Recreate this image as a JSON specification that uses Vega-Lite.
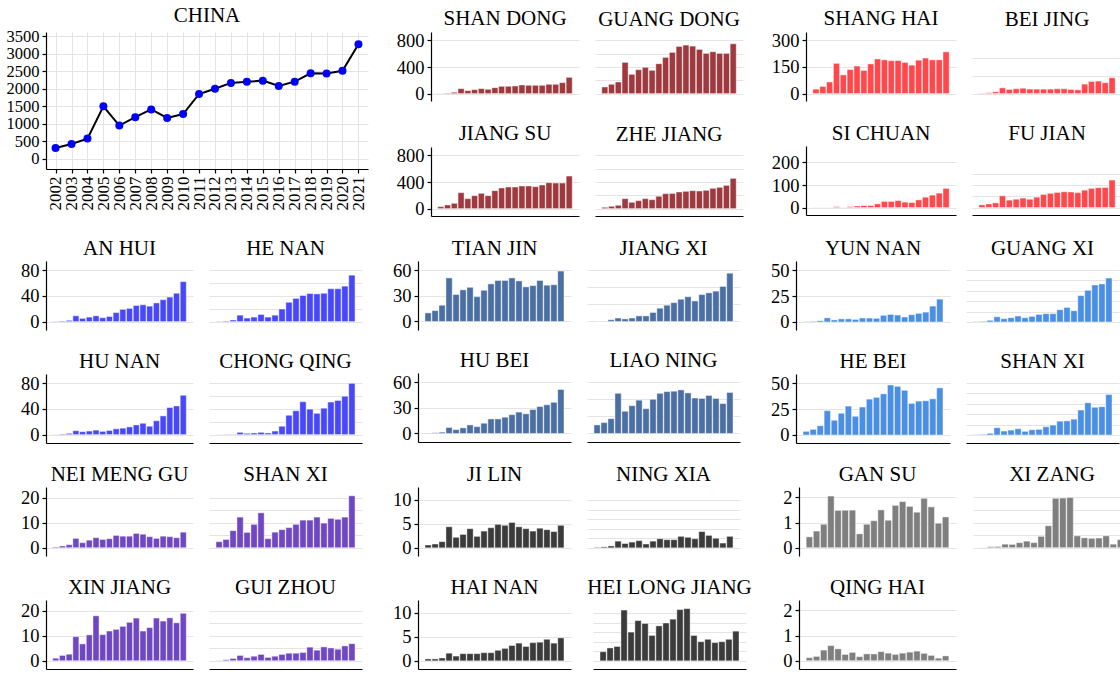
{
"$schema":"https://vega.github.io/schema/vega-lite/v6.json",
"padding":{"left":6,"top":5,"right":0,"bottom":5},
"background":"white",
"data":{"values":[
{"p":"CHINA","y":2002,"v":310},{"p":"CHINA","y":2003,"v":425},{"p":"CHINA","y":2004,"v":580},{"p":"CHINA","y":2005,"v":1500},{"p":"CHINA","y":2006,"v":950},{"p":"CHINA","y":2007,"v":1190},{"p":"CHINA","y":2008,"v":1410},{"p":"CHINA","y":2009,"v":1170},{"p":"CHINA","y":2010,"v":1280},{"p":"CHINA","y":2011,"v":1850},{"p":"CHINA","y":2012,"v":2000},{"p":"CHINA","y":2013,"v":2165},{"p":"CHINA","y":2014,"v":2195},{"p":"CHINA","y":2015,"v":2230},{"p":"CHINA","y":2016,"v":2080},{"p":"CHINA","y":2017,"v":2200},{"p":"CHINA","y":2018,"v":2440},{"p":"CHINA","y":2019,"v":2430},{"p":"CHINA","y":2020,"v":2510},{"p":"CHINA","y":2021,"v":3265},
{"p":"SHAN DONG","y":2002,"v":3},{"p":"SHAN DONG","y":2003,"v":8},{"p":"SHAN DONG","y":2004,"v":20},{"p":"SHAN DONG","y":2005,"v":75},{"p":"SHAN DONG","y":2006,"v":45},{"p":"SHAN DONG","y":2007,"v":60},{"p":"SHAN DONG","y":2008,"v":75},{"p":"SHAN DONG","y":2009,"v":65},{"p":"SHAN DONG","y":2010,"v":90},{"p":"SHAN DONG","y":2011,"v":110},{"p":"SHAN DONG","y":2012,"v":110},{"p":"SHAN DONG","y":2013,"v":115},{"p":"SHAN DONG","y":2014,"v":130},{"p":"SHAN DONG","y":2015,"v":125},{"p":"SHAN DONG","y":2016,"v":125},{"p":"SHAN DONG","y":2017,"v":125},{"p":"SHAN DONG","y":2018,"v":140},{"p":"SHAN DONG","y":2019,"v":140},{"p":"SHAN DONG","y":2020,"v":165},{"p":"SHAN DONG","y":2021,"v":245},
{"p":"GUANG DONG","y":2002,"v":100},{"p":"GUANG DONG","y":2003,"v":140},{"p":"GUANG DONG","y":2004,"v":175},{"p":"GUANG DONG","y":2005,"v":470},{"p":"GUANG DONG","y":2006,"v":290},{"p":"GUANG DONG","y":2007,"v":360},{"p":"GUANG DONG","y":2008,"v":395},{"p":"GUANG DONG","y":2009,"v":350},{"p":"GUANG DONG","y":2010,"v":450},{"p":"GUANG DONG","y":2011,"v":545},{"p":"GUANG DONG","y":2012,"v":620},{"p":"GUANG DONG","y":2013,"v":710},{"p":"GUANG DONG","y":2014,"v":730},{"p":"GUANG DONG","y":2015,"v":715},{"p":"GUANG DONG","y":2016,"v":665},{"p":"GUANG DONG","y":2017,"v":605},{"p":"GUANG DONG","y":2018,"v":630},{"p":"GUANG DONG","y":2019,"v":605},{"p":"GUANG DONG","y":2020,"v":605},{"p":"GUANG DONG","y":2021,"v":750},
{"p":"JIANG SU","y":2002,"v":30},{"p":"JIANG SU","y":2003,"v":55},{"p":"JIANG SU","y":2004,"v":80},{"p":"JIANG SU","y":2005,"v":240},{"p":"JIANG SU","y":2006,"v":150},{"p":"JIANG SU","y":2007,"v":195},{"p":"JIANG SU","y":2008,"v":230},{"p":"JIANG SU","y":2009,"v":195},{"p":"JIANG SU","y":2010,"v":270},{"p":"JIANG SU","y":2011,"v":310},{"p":"JIANG SU","y":2012,"v":325},{"p":"JIANG SU","y":2013,"v":325},{"p":"JIANG SU","y":2014,"v":340},{"p":"JIANG SU","y":2015,"v":340},{"p":"JIANG SU","y":2016,"v":330},{"p":"JIANG SU","y":2017,"v":355},{"p":"JIANG SU","y":2018,"v":390},{"p":"JIANG SU","y":2019,"v":385},{"p":"JIANG SU","y":2020,"v":385},{"p":"JIANG SU","y":2021,"v":490},
{"p":"ZHE JIANG","y":2002,"v":20},{"p":"ZHE JIANG","y":2003,"v":35},{"p":"ZHE JIANG","y":2004,"v":50},{"p":"ZHE JIANG","y":2005,"v":150},{"p":"ZHE JIANG","y":2006,"v":95},{"p":"ZHE JIANG","y":2007,"v":120},{"p":"ZHE JIANG","y":2008,"v":150},{"p":"ZHE JIANG","y":2009,"v":135},{"p":"ZHE JIANG","y":2010,"v":185},{"p":"ZHE JIANG","y":2011,"v":225},{"p":"ZHE JIANG","y":2012,"v":228},{"p":"ZHE JIANG","y":2013,"v":250},{"p":"ZHE JIANG","y":2014,"v":260},{"p":"ZHE JIANG","y":2015,"v":270},{"p":"ZHE JIANG","y":2016,"v":265},{"p":"ZHE JIANG","y":2017,"v":275},{"p":"ZHE JIANG","y":2018,"v":305},{"p":"ZHE JIANG","y":2019,"v":320},{"p":"ZHE JIANG","y":2020,"v":350},{"p":"ZHE JIANG","y":2021,"v":455},
{"p":"SHANG HAI","y":2002,"v":25},{"p":"SHANG HAI","y":2003,"v":40},{"p":"SHANG HAI","y":2004,"v":65},{"p":"SHANG HAI","y":2005,"v":170},{"p":"SHANG HAI","y":2006,"v":105},{"p":"SHANG HAI","y":2007,"v":135},{"p":"SHANG HAI","y":2008,"v":155},{"p":"SHANG HAI","y":2009,"v":130},{"p":"SHANG HAI","y":2010,"v":167},{"p":"SHANG HAI","y":2011,"v":195},{"p":"SHANG HAI","y":2012,"v":190},{"p":"SHANG HAI","y":2013,"v":185},{"p":"SHANG HAI","y":2014,"v":186},{"p":"SHANG HAI","y":2015,"v":175},{"p":"SHANG HAI","y":2016,"v":160},{"p":"SHANG HAI","y":2017,"v":188},{"p":"SHANG HAI","y":2018,"v":200},{"p":"SHANG HAI","y":2019,"v":190},{"p":"SHANG HAI","y":2020,"v":190},{"p":"SHANG HAI","y":2021,"v":235},
{"p":"BEI JING","y":2002,"v":2},{"p":"BEI JING","y":2003,"v":4},{"p":"BEI JING","y":2004,"v":10},{"p":"BEI JING","y":2005,"v":32},{"p":"BEI JING","y":2006,"v":23},{"p":"BEI JING","y":2007,"v":27},{"p":"BEI JING","y":2008,"v":30},{"p":"BEI JING","y":2009,"v":25},{"p":"BEI JING","y":2010,"v":25},{"p":"BEI JING","y":2011,"v":25},{"p":"BEI JING","y":2012,"v":25},{"p":"BEI JING","y":2013,"v":27},{"p":"BEI JING","y":2014,"v":27},{"p":"BEI JING","y":2015,"v":23},{"p":"BEI JING","y":2016,"v":21},{"p":"BEI JING","y":2017,"v":53},{"p":"BEI JING","y":2018,"v":68},{"p":"BEI JING","y":2019,"v":70},{"p":"BEI JING","y":2020,"v":61},{"p":"BEI JING","y":2021,"v":89},
{"p":"SI CHUAN","y":2002,"v":1},{"p":"SI CHUAN","y":2003,"v":1},{"p":"SI CHUAN","y":2004,"v":1},{"p":"SI CHUAN","y":2005,"v":4},{"p":"SI CHUAN","y":2006,"v":1},{"p":"SI CHUAN","y":2007,"v":4},{"p":"SI CHUAN","y":2008,"v":7},{"p":"SI CHUAN","y":2009,"v":9},{"p":"SI CHUAN","y":2010,"v":9},{"p":"SI CHUAN","y":2011,"v":16},{"p":"SI CHUAN","y":2012,"v":27},{"p":"SI CHUAN","y":2013,"v":27},{"p":"SI CHUAN","y":2014,"v":31},{"p":"SI CHUAN","y":2015,"v":24},{"p":"SI CHUAN","y":2016,"v":22},{"p":"SI CHUAN","y":2017,"v":34},{"p":"SI CHUAN","y":2018,"v":46},{"p":"SI CHUAN","y":2019,"v":55},{"p":"SI CHUAN","y":2020,"v":64},{"p":"SI CHUAN","y":2021,"v":85},
{"p":"FU JIAN","y":2002,"v":12},{"p":"FU JIAN","y":2003,"v":16},{"p":"FU JIAN","y":2004,"v":21},{"p":"FU JIAN","y":2005,"v":52},{"p":"FU JIAN","y":2006,"v":33},{"p":"FU JIAN","y":2007,"v":37},{"p":"FU JIAN","y":2008,"v":42},{"p":"FU JIAN","y":2009,"v":37},{"p":"FU JIAN","y":2010,"v":46},{"p":"FU JIAN","y":2011,"v":58},{"p":"FU JIAN","y":2012,"v":63},{"p":"FU JIAN","y":2013,"v":67},{"p":"FU JIAN","y":2014,"v":70},{"p":"FU JIAN","y":2015,"v":69},{"p":"FU JIAN","y":2016,"v":66},{"p":"FU JIAN","y":2017,"v":77},{"p":"FU JIAN","y":2018,"v":85},{"p":"FU JIAN","y":2019,"v":88},{"p":"FU JIAN","y":2020,"v":89},{"p":"FU JIAN","y":2021,"v":122},
{"p":"AN HUI","y":2002,"v":0.5},{"p":"AN HUI","y":2003,"v":1},{"p":"AN HUI","y":2004,"v":2},{"p":"AN HUI","y":2005,"v":9},{"p":"AN HUI","y":2006,"v":5},{"p":"AN HUI","y":2007,"v":7},{"p":"AN HUI","y":2008,"v":9},{"p":"AN HUI","y":2009,"v":6},{"p":"AN HUI","y":2010,"v":8},{"p":"AN HUI","y":2011,"v":14},{"p":"AN HUI","y":2012,"v":19},{"p":"AN HUI","y":2013,"v":20.5},{"p":"AN HUI","y":2014,"v":25},{"p":"AN HUI","y":2015,"v":26},{"p":"AN HUI","y":2016,"v":24},{"p":"AN HUI","y":2017,"v":29},{"p":"AN HUI","y":2018,"v":34},{"p":"AN HUI","y":2019,"v":38},{"p":"AN HUI","y":2020,"v":44},{"p":"AN HUI","y":2021,"v":62},
{"p":"HE NAN","y":2002,"v":0.5},{"p":"HE NAN","y":2003,"v":1},{"p":"HE NAN","y":2004,"v":2.5},{"p":"HE NAN","y":2005,"v":10},{"p":"HE NAN","y":2006,"v":5.5},{"p":"HE NAN","y":2007,"v":7},{"p":"HE NAN","y":2008,"v":11},{"p":"HE NAN","y":2009,"v":7},{"p":"HE NAN","y":2010,"v":10},{"p":"HE NAN","y":2011,"v":19.5},{"p":"HE NAN","y":2012,"v":30},{"p":"HE NAN","y":2013,"v":36},{"p":"HE NAN","y":2014,"v":40.5},{"p":"HE NAN","y":2015,"v":43.5},{"p":"HE NAN","y":2016,"v":43},{"p":"HE NAN","y":2017,"v":44},{"p":"HE NAN","y":2018,"v":51},{"p":"HE NAN","y":2019,"v":51},{"p":"HE NAN","y":2020,"v":55},{"p":"HE NAN","y":2021,"v":72},
{"p":"HU NAN","y":2002,"v":0.3},{"p":"HU NAN","y":2003,"v":1},{"p":"HU NAN","y":2004,"v":2},{"p":"HU NAN","y":2005,"v":6},{"p":"HU NAN","y":2006,"v":4.5},{"p":"HU NAN","y":2007,"v":5.5},{"p":"HU NAN","y":2008,"v":7},{"p":"HU NAN","y":2009,"v":5},{"p":"HU NAN","y":2010,"v":6.5},{"p":"HU NAN","y":2011,"v":9},{"p":"HU NAN","y":2012,"v":10},{"p":"HU NAN","y":2013,"v":12},{"p":"HU NAN","y":2014,"v":15},{"p":"HU NAN","y":2015,"v":17.5},{"p":"HU NAN","y":2016,"v":13},{"p":"HU NAN","y":2017,"v":21.5},{"p":"HU NAN","y":2018,"v":29},{"p":"HU NAN","y":2019,"v":42},{"p":"HU NAN","y":2020,"v":44.5},{"p":"HU NAN","y":2021,"v":61},
{"p":"CHONG QING","y":2002,"v":0.2},{"p":"CHONG QING","y":2003,"v":0.5},{"p":"CHONG QING","y":2004,"v":0.5},{"p":"CHONG QING","y":2005,"v":3.5},{"p":"CHONG QING","y":2006,"v":2},{"p":"CHONG QING","y":2007,"v":2.5},{"p":"CHONG QING","y":2008,"v":3.5},{"p":"CHONG QING","y":2009,"v":2.5},{"p":"CHONG QING","y":2010,"v":5.5},{"p":"CHONG QING","y":2011,"v":13},{"p":"CHONG QING","y":2012,"v":30},{"p":"CHONG QING","y":2013,"v":37},{"p":"CHONG QING","y":2014,"v":51},{"p":"CHONG QING","y":2015,"v":39.5},{"p":"CHONG QING","y":2016,"v":33},{"p":"CHONG QING","y":2017,"v":41},{"p":"CHONG QING","y":2018,"v":50.5},{"p":"CHONG QING","y":2019,"v":53},{"p":"CHONG QING","y":2020,"v":59.5},{"p":"CHONG QING","y":2021,"v":79.5},
{"p":"TIAN JIN","y":2002,"v":10},{"p":"TIAN JIN","y":2003,"v":12.7},{"p":"TIAN JIN","y":2004,"v":19},{"p":"TIAN JIN","y":2005,"v":51},{"p":"TIAN JIN","y":2006,"v":31.5},{"p":"TIAN JIN","y":2007,"v":37},{"p":"TIAN JIN","y":2008,"v":40},{"p":"TIAN JIN","y":2009,"v":29},{"p":"TIAN JIN","y":2010,"v":36.5},{"p":"TIAN JIN","y":2011,"v":44},{"p":"TIAN JIN","y":2012,"v":48},{"p":"TIAN JIN","y":2013,"v":48},{"p":"TIAN JIN","y":2014,"v":51},{"p":"TIAN JIN","y":2015,"v":47.5},{"p":"TIAN JIN","y":2016,"v":40.5},{"p":"TIAN JIN","y":2017,"v":42},{"p":"TIAN JIN","y":2018,"v":48},{"p":"TIAN JIN","y":2019,"v":42.5},{"p":"TIAN JIN","y":2020,"v":43},{"p":"TIAN JIN","y":2021,"v":59},
{"p":"JIANG XI","y":2002,"v":0.2},{"p":"JIANG XI","y":2003,"v":0.3},{"p":"JIANG XI","y":2004,"v":2},{"p":"JIANG XI","y":2005,"v":4},{"p":"JIANG XI","y":2006,"v":3},{"p":"JIANG XI","y":2007,"v":4},{"p":"JIANG XI","y":2008,"v":6.5},{"p":"JIANG XI","y":2009,"v":6.5},{"p":"JIANG XI","y":2010,"v":10.5},{"p":"JIANG XI","y":2011,"v":15.5},{"p":"JIANG XI","y":2012,"v":19},{"p":"JIANG XI","y":2013,"v":22},{"p":"JIANG XI","y":2014,"v":26},{"p":"JIANG XI","y":2015,"v":29},{"p":"JIANG XI","y":2016,"v":24},{"p":"JIANG XI","y":2017,"v":31.5},{"p":"JIANG XI","y":2018,"v":33.5},{"p":"JIANG XI","y":2019,"v":35.5},{"p":"JIANG XI","y":2020,"v":41},{"p":"JIANG XI","y":2021,"v":56.5},
{"p":"HU BEI","y":2002,"v":0.4},{"p":"HU BEI","y":2003,"v":0.8},{"p":"HU BEI","y":2004,"v":1.5},{"p":"HU BEI","y":2005,"v":7},{"p":"HU BEI","y":2006,"v":4.5},{"p":"HU BEI","y":2007,"v":6.5},{"p":"HU BEI","y":2008,"v":10},{"p":"HU BEI","y":2009,"v":8},{"p":"HU BEI","y":2010,"v":12},{"p":"HU BEI","y":2011,"v":17},{"p":"HU BEI","y":2012,"v":17},{"p":"HU BEI","y":2013,"v":19},{"p":"HU BEI","y":2014,"v":22},{"p":"HU BEI","y":2015,"v":25},{"p":"HU BEI","y":2016,"v":23},{"p":"HU BEI","y":2017,"v":28},{"p":"HU BEI","y":2018,"v":31.5},{"p":"HU BEI","y":2019,"v":33.5},{"p":"HU BEI","y":2020,"v":36.5},{"p":"HU BEI","y":2021,"v":51.5},
{"p":"LIAO NING","y":2002,"v":10},{"p":"LIAO NING","y":2003,"v":12.7},{"p":"LIAO NING","y":2004,"v":17.3},{"p":"LIAO NING","y":2005,"v":47},{"p":"LIAO NING","y":2006,"v":26},{"p":"LIAO NING","y":2007,"v":32.5},{"p":"LIAO NING","y":2008,"v":39},{"p":"LIAO NING","y":2009,"v":29},{"p":"LIAO NING","y":2010,"v":40},{"p":"LIAO NING","y":2011,"v":47},{"p":"LIAO NING","y":2012,"v":49},{"p":"LIAO NING","y":2013,"v":49.5},{"p":"LIAO NING","y":2014,"v":51},{"p":"LIAO NING","y":2015,"v":47.5},{"p":"LIAO NING","y":2016,"v":41.5},{"p":"LIAO NING","y":2017,"v":41},{"p":"LIAO NING","y":2018,"v":44.5},{"p":"LIAO NING","y":2019,"v":41},{"p":"LIAO NING","y":2020,"v":35},{"p":"LIAO NING","y":2021,"v":48},
{"p":"YUN NAN","y":2002,"v":0.3},{"p":"YUN NAN","y":2003,"v":0.6},{"p":"YUN NAN","y":2004,"v":1.2},{"p":"YUN NAN","y":2005,"v":4},{"p":"YUN NAN","y":2006,"v":2},{"p":"YUN NAN","y":2007,"v":3},{"p":"YUN NAN","y":2008,"v":3},{"p":"YUN NAN","y":2009,"v":2.5},{"p":"YUN NAN","y":2010,"v":3.8},{"p":"YUN NAN","y":2011,"v":3.8},{"p":"YUN NAN","y":2012,"v":3.5},{"p":"YUN NAN","y":2013,"v":6.4},{"p":"YUN NAN","y":2014,"v":7.3},{"p":"YUN NAN","y":2015,"v":6.7},{"p":"YUN NAN","y":2016,"v":4.8},{"p":"YUN NAN","y":2017,"v":7},{"p":"YUN NAN","y":2018,"v":8.3},{"p":"YUN NAN","y":2019,"v":9.5},{"p":"YUN NAN","y":2020,"v":15.3},{"p":"YUN NAN","y":2021,"v":22},
{"p":"GUANG XI","y":2002,"v":0.3},{"p":"GUANG XI","y":2003,"v":0.6},{"p":"GUANG XI","y":2004,"v":1.6},{"p":"GUANG XI","y":2005,"v":5},{"p":"GUANG XI","y":2006,"v":3.2},{"p":"GUANG XI","y":2007,"v":4.1},{"p":"GUANG XI","y":2008,"v":5.7},{"p":"GUANG XI","y":2009,"v":4.1},{"p":"GUANG XI","y":2010,"v":5.4},{"p":"GUANG XI","y":2011,"v":7.3},{"p":"GUANG XI","y":2012,"v":8},{"p":"GUANG XI","y":2013,"v":8},{"p":"GUANG XI","y":2014,"v":11.8},{"p":"GUANG XI","y":2015,"v":14},{"p":"GUANG XI","y":2016,"v":10.8},{"p":"GUANG XI","y":2017,"v":25.4},{"p":"GUANG XI","y":2018,"v":30.5},{"p":"GUANG XI","y":2019,"v":35.6},{"p":"GUANG XI","y":2020,"v":36.6},{"p":"GUANG XI","y":2021,"v":42.3},
{"p":"HE BEI","y":2002,"v":3.5},{"p":"HE BEI","y":2003,"v":5.4},{"p":"HE BEI","y":2004,"v":8.9},{"p":"HE BEI","y":2005,"v":23.4},{"p":"HE BEI","y":2006,"v":14.2},{"p":"HE BEI","y":2007,"v":20.9},{"p":"HE BEI","y":2008,"v":27.8},{"p":"HE BEI","y":2009,"v":18},{"p":"HE BEI","y":2010,"v":26.9},{"p":"HE BEI","y":2011,"v":34.5},{"p":"HE BEI","y":2012,"v":36.2},{"p":"HE BEI","y":2013,"v":39.6},{"p":"HE BEI","y":2014,"v":48.1},{"p":"HE BEI","y":2015,"v":46.8},{"p":"HE BEI","y":2016,"v":43},{"p":"HE BEI","y":2017,"v":30.4},{"p":"HE BEI","y":2018,"v":32.6},{"p":"HE BEI","y":2019,"v":32.9},{"p":"HE BEI","y":2020,"v":34.8},{"p":"HE BEI","y":2021,"v":45.3},
{"p":"SHAN XI","y":2002,"v":0.3},{"p":"SHAN XI","y":2003,"v":0.6},{"p":"SHAN XI","y":2004,"v":1.6},{"p":"SHAN XI","y":2005,"v":7},{"p":"SHAN XI","y":2006,"v":3.8},{"p":"SHAN XI","y":2007,"v":4.7},{"p":"SHAN XI","y":2008,"v":6},{"p":"SHAN XI","y":2009,"v":3.5},{"p":"SHAN XI","y":2010,"v":5},{"p":"SHAN XI","y":2011,"v":5.4},{"p":"SHAN XI","y":2012,"v":7.9},{"p":"SHAN XI","y":2013,"v":9.5},{"p":"SHAN XI","y":2014,"v":13.3},{"p":"SHAN XI","y":2015,"v":13.6},{"p":"SHAN XI","y":2016,"v":15.2},{"p":"SHAN XI","y":2017,"v":24},{"p":"SHAN XI","y":2018,"v":31},{"p":"SHAN XI","y":2019,"v":26.6},{"p":"SHAN XI","y":2020,"v":27.2},{"p":"SHAN XI","y":2021,"v":38.9},
{"p":"NEI MENG GU","y":2002,"v":0.3},{"p":"NEI MENG GU","y":2003,"v":0.7},{"p":"NEI MENG GU","y":2004,"v":1.2},{"p":"NEI MENG GU","y":2005,"v":3.7},{"p":"NEI MENG GU","y":2006,"v":2},{"p":"NEI MENG GU","y":2007,"v":3},{"p":"NEI MENG GU","y":2008,"v":4},{"p":"NEI MENG GU","y":2009,"v":3.3},{"p":"NEI MENG GU","y":2010,"v":3.6},{"p":"NEI MENG GU","y":2011,"v":4.9},{"p":"NEI MENG GU","y":2012,"v":4.6},{"p":"NEI MENG GU","y":2013,"v":4.6},{"p":"NEI MENG GU","y":2014,"v":5.7},{"p":"NEI MENG GU","y":2015,"v":5.4},{"p":"NEI MENG GU","y":2016,"v":4.4},{"p":"NEI MENG GU","y":2017,"v":3.7},{"p":"NEI MENG GU","y":2018,"v":4.6},{"p":"NEI MENG GU","y":2019,"v":4.4},{"p":"NEI MENG GU","y":2020,"v":4},{"p":"NEI MENG GU","y":2021,"v":6.2},
{"p":"SHAAN XI","y":2002,"v":2.4},{"p":"SHAAN XI","y":2003,"v":3.3},{"p":"SHAAN XI","y":2004,"v":6.8},{"p":"SHAAN XI","y":2005,"v":12.2},{"p":"SHAAN XI","y":2006,"v":6.1},{"p":"SHAAN XI","y":2007,"v":9.3},{"p":"SHAAN XI","y":2008,"v":13.9},{"p":"SHAAN XI","y":2009,"v":3.6},{"p":"SHAAN XI","y":2010,"v":6.2},{"p":"SHAAN XI","y":2011,"v":7.2},{"p":"SHAAN XI","y":2012,"v":8},{"p":"SHAAN XI","y":2013,"v":9.3},{"p":"SHAAN XI","y":2014,"v":11},{"p":"SHAAN XI","y":2015,"v":11},{"p":"SHAAN XI","y":2016,"v":12.2},{"p":"SHAAN XI","y":2017,"v":9.8},{"p":"SHAAN XI","y":2018,"v":11.7},{"p":"SHAAN XI","y":2019,"v":11.3},{"p":"SHAAN XI","y":2020,"v":12.2},{"p":"SHAAN XI","y":2021,"v":20.7},
{"p":"XIN JIANG","y":2002,"v":1},{"p":"XIN JIANG","y":2003,"v":2.1},{"p":"XIN JIANG","y":2004,"v":2.6},{"p":"XIN JIANG","y":2005,"v":9.6},{"p":"XIN JIANG","y":2006,"v":6.7},{"p":"XIN JIANG","y":2007,"v":10.3},{"p":"XIN JIANG","y":2008,"v":17.9},{"p":"XIN JIANG","y":2009,"v":10.4},{"p":"XIN JIANG","y":2010,"v":11.8},{"p":"XIN JIANG","y":2011,"v":12.5},{"p":"XIN JIANG","y":2012,"v":13.7},{"p":"XIN JIANG","y":2013,"v":15.3},{"p":"XIN JIANG","y":2014,"v":17},{"p":"XIN JIANG","y":2015,"v":11.8},{"p":"XIN JIANG","y":2016,"v":13.2},{"p":"XIN JIANG","y":2017,"v":17},{"p":"XIN JIANG","y":2018,"v":15.8},{"p":"XIN JIANG","y":2019,"v":17.1},{"p":"XIN JIANG","y":2020,"v":15.1},{"p":"XIN JIANG","y":2021,"v":18.9},
{"p":"GUI ZHOU","y":2002,"v":0.1},{"p":"GUI ZHOU","y":2003,"v":0.4},{"p":"GUI ZHOU","y":2004,"v":0.9},{"p":"GUI ZHOU","y":2005,"v":2.1},{"p":"GUI ZHOU","y":2006,"v":1.2},{"p":"GUI ZHOU","y":2007,"v":1.8},{"p":"GUI ZHOU","y":2008,"v":2.5},{"p":"GUI ZHOU","y":2009,"v":1.3},{"p":"GUI ZHOU","y":2010,"v":1.8},{"p":"GUI ZHOU","y":2011,"v":2.5},{"p":"GUI ZHOU","y":2012,"v":3},{"p":"GUI ZHOU","y":2013,"v":3},{"p":"GUI ZHOU","y":2014,"v":3.3},{"p":"GUI ZHOU","y":2015,"v":5.4},{"p":"GUI ZHOU","y":2016,"v":4.2},{"p":"GUI ZHOU","y":2017,"v":5.5},{"p":"GUI ZHOU","y":2018,"v":5.1},{"p":"GUI ZHOU","y":2019,"v":4.6},{"p":"GUI ZHOU","y":2020,"v":5.9},{"p":"GUI ZHOU","y":2021,"v":6.8},
{"p":"JI LIN","y":2002,"v":0.6},{"p":"JI LIN","y":2003,"v":0.8},{"p":"JI LIN","y":2004,"v":1.3},{"p":"JI LIN","y":2005,"v":4.4},{"p":"JI LIN","y":2006,"v":2.2},{"p":"JI LIN","y":2007,"v":2.8},{"p":"JI LIN","y":2008,"v":4},{"p":"JI LIN","y":2009,"v":2.4},{"p":"JI LIN","y":2010,"v":3.5},{"p":"JI LIN","y":2011,"v":4.2},{"p":"JI LIN","y":2012,"v":4.9},{"p":"JI LIN","y":2013,"v":4.7},{"p":"JI LIN","y":2014,"v":5.3},{"p":"JI LIN","y":2015,"v":4.4},{"p":"JI LIN","y":2016,"v":4},{"p":"JI LIN","y":2017,"v":3.5},{"p":"JI LIN","y":2018,"v":4.1},{"p":"JI LIN","y":2019,"v":3.8},{"p":"JI LIN","y":2020,"v":3.4},{"p":"JI LIN","y":2021,"v":4.7},
{"p":"NING XIA","y":2002,"v":0.1},{"p":"NING XIA","y":2003,"v":0.2},{"p":"NING XIA","y":2004,"v":0.4},{"p":"NING XIA","y":2005,"v":1.4},{"p":"NING XIA","y":2006,"v":0.9},{"p":"NING XIA","y":2007,"v":1.2},{"p":"NING XIA","y":2008,"v":1.5},{"p":"NING XIA","y":2009,"v":0.8},{"p":"NING XIA","y":2010,"v":1.4},{"p":"NING XIA","y":2011,"v":1.9},{"p":"NING XIA","y":2012,"v":1.7},{"p":"NING XIA","y":2013,"v":1.7},{"p":"NING XIA","y":2014,"v":2.4},{"p":"NING XIA","y":2015,"v":2.2},{"p":"NING XIA","y":2016,"v":1.9},{"p":"NING XIA","y":2017,"v":3.4},{"p":"NING XIA","y":2018,"v":2.6},{"p":"NING XIA","y":2019,"v":2},{"p":"NING XIA","y":2020,"v":1},{"p":"NING XIA","y":2021,"v":2.4},
{"p":"HAI NAN","y":2002,"v":0.4},{"p":"HAI NAN","y":2003,"v":0.4},{"p":"HAI NAN","y":2004,"v":0.6},{"p":"HAI NAN","y":2005,"v":1.6},{"p":"HAI NAN","y":2006,"v":1},{"p":"HAI NAN","y":2007,"v":1.5},{"p":"HAI NAN","y":2008,"v":1.5},{"p":"HAI NAN","y":2009,"v":1.5},{"p":"HAI NAN","y":2010,"v":1.7},{"p":"HAI NAN","y":2011,"v":1.7},{"p":"HAI NAN","y":2012,"v":2.2},{"p":"HAI NAN","y":2013,"v":2.6},{"p":"HAI NAN","y":2014,"v":3.2},{"p":"HAI NAN","y":2015,"v":3.7},{"p":"HAI NAN","y":2016,"v":3},{"p":"HAI NAN","y":2017,"v":3.8},{"p":"HAI NAN","y":2018,"v":3.9},{"p":"HAI NAN","y":2019,"v":4.5},{"p":"HAI NAN","y":2020,"v":3.7},{"p":"HAI NAN","y":2021,"v":4.8},
{"p":"HEI LONG JIANG","y":2002,"v":1.9},{"p":"HEI LONG JIANG","y":2003,"v":2.7},{"p":"HEI LONG JIANG","y":2004,"v":3},{"p":"HEI LONG JIANG","y":2005,"v":10.6},{"p":"HEI LONG JIANG","y":2006,"v":6},{"p":"HEI LONG JIANG","y":2007,"v":8.4},{"p":"HEI LONG JIANG","y":2008,"v":7.8},{"p":"HEI LONG JIANG","y":2009,"v":5.3},{"p":"HEI LONG JIANG","y":2010,"v":7.3},{"p":"HEI LONG JIANG","y":2011,"v":7.9},{"p":"HEI LONG JIANG","y":2012,"v":8.7},{"p":"HEI LONG JIANG","y":2013,"v":10.7},{"p":"HEI LONG JIANG","y":2014,"v":10.9},{"p":"HEI LONG JIANG","y":2015,"v":5.3},{"p":"HEI LONG JIANG","y":2016,"v":4},{"p":"HEI LONG JIANG","y":2017,"v":4.5},{"p":"HEI LONG JIANG","y":2018,"v":3.8},{"p":"HEI LONG JIANG","y":2019,"v":4},{"p":"HEI LONG JIANG","y":2020,"v":4.5},{"p":"HEI LONG JIANG","y":2021,"v":6.2},
{"p":"GAN SU","y":2002,"v":0.43},{"p":"GAN SU","y":2003,"v":0.66},{"p":"GAN SU","y":2004,"v":0.93},{"p":"GAN SU","y":2005,"v":2.05},{"p":"GAN SU","y":2006,"v":1.48},{"p":"GAN SU","y":2007,"v":1.49},{"p":"GAN SU","y":2008,"v":1.49},{"p":"GAN SU","y":2009,"v":0.55},{"p":"GAN SU","y":2010,"v":0.93},{"p":"GAN SU","y":2011,"v":1.07},{"p":"GAN SU","y":2012,"v":1.5},{"p":"GAN SU","y":2013,"v":1.09},{"p":"GAN SU","y":2014,"v":1.68},{"p":"GAN SU","y":2015,"v":1.83},{"p":"GAN SU","y":2016,"v":1.64},{"p":"GAN SU","y":2017,"v":1.41},{"p":"GAN SU","y":2018,"v":1.96},{"p":"GAN SU","y":2019,"v":1.62},{"p":"GAN SU","y":2020,"v":0.97},{"p":"GAN SU","y":2021,"v":1.22},
{"p":"XI ZANG","y":2002,"v":0.01},{"p":"XI ZANG","y":2003,"v":0.04},{"p":"XI ZANG","y":2004,"v":0.05},{"p":"XI ZANG","y":2005,"v":0.14},{"p":"XI ZANG","y":2006,"v":0.13},{"p":"XI ZANG","y":2007,"v":0.2},{"p":"XI ZANG","y":2008,"v":0.26},{"p":"XI ZANG","y":2009,"v":0.2},{"p":"XI ZANG","y":2010,"v":0.45},{"p":"XI ZANG","y":2011,"v":0.87},{"p":"XI ZANG","y":2012,"v":1.96},{"p":"XI ZANG","y":2013,"v":1.97},{"p":"XI ZANG","y":2014,"v":1.99},{"p":"XI ZANG","y":2015,"v":0.47},{"p":"XI ZANG","y":2016,"v":0.39},{"p":"XI ZANG","y":2017,"v":0.37},{"p":"XI ZANG","y":2018,"v":0.38},{"p":"XI ZANG","y":2019,"v":0.47},{"p":"XI ZANG","y":2020,"v":0.14},{"p":"XI ZANG","y":2021,"v":0.32},
{"p":"QING HAI","y":2002,"v":0.12},{"p":"QING HAI","y":2003,"v":0.17},{"p":"QING HAI","y":2004,"v":0.42},{"p":"QING HAI","y":2005,"v":0.6},{"p":"QING HAI","y":2006,"v":0.47},{"p":"QING HAI","y":2007,"v":0.25},{"p":"QING HAI","y":2008,"v":0.33},{"p":"QING HAI","y":2009,"v":0.16},{"p":"QING HAI","y":2010,"v":0.27},{"p":"QING HAI","y":2011,"v":0.27},{"p":"QING HAI","y":2012,"v":0.36},{"p":"QING HAI","y":2013,"v":0.3},{"p":"QING HAI","y":2014,"v":0.25},{"p":"QING HAI","y":2015,"v":0.3},{"p":"QING HAI","y":2016,"v":0.34},{"p":"QING HAI","y":2017,"v":0.38},{"p":"QING HAI","y":2018,"v":0.29},{"p":"QING HAI","y":2019,"v":0.21},{"p":"QING HAI","y":2020,"v":0.1},{"p":"QING HAI","y":2021,"v":0.19}
]},
"spacing":19,
"vconcat":[
{"spacing":28,"hconcat":[
 {"title":"CHINA","width":322,"height":137,"transform":[{"filter":"datum.p=='CHINA'"}],
  "encoding":{"x":{"field":"y","type":"ordinal","scale":{"type":"point","padding":0.6},"axis":{"title":null,"labels":true,"ticks":true,"grid":true,"labelAngle":270,"labelFontSize":17}},"y":{"field":"v","type":"quantitative","scale":{"domain":[-285,3614],"nice":false,"zero":false},"axis":{"values":[0,500,1000,1500,2000,2500,3000,3500],"format":"d","title":null,"labelFontSize":16.5,"labelOverlap":false,"labelBound":false}}},
  "layer":[
   {"mark":{"type":"line","color":"black","strokeWidth":2},"encoding":{}},
   {"mark":{"type":"point","filled":true,"color":"#0000FF","size":64,"opacity":1},"encoding":{}}
  ]},
 {"spacing":19,"vconcat":[
  {"spacing":16,"hconcat":[
   {"title":"SHAN DONG","width":148,"height":69,"transform":[{"filter":"datum.p=='SHAN DONG'"}],"mark":{"type":"bar","fill":"#9E3A3F"},"encoding":{"x":{"field":"y","type":"ordinal","scale":{"paddingInner":0.1,"paddingOuter":1},"axis":null},"y":{"field":"v","type":"quantitative","scale":{"domain":[-111,927],"nice":false,"zero":false},"axis":{"values":[0,400,800],"title":null}}}},
   {"title":"GUANG DONG","width":148,"height":69,"transform":[{"filter":"datum.p=='GUANG DONG'"}],"mark":{"type":"bar","fill":"#9E3A3F"},"encoding":{"x":{"field":"y","type":"ordinal","scale":{"paddingInner":0.1,"paddingOuter":1},"axis":null},"y":{"field":"v","type":"quantitative","scale":{"domain":[-111,927],"nice":false,"zero":false},"axis":{"values":[0,200,400,600,800],"title":null,"labels":false,"ticks":false,"domain":false}}}}
  ]},
  {"spacing":16,"hconcat":[
   {"title":"JIANG SU","width":148,"height":69,"transform":[{"filter":"datum.p=='JIANG SU'"}],"mark":{"type":"bar","fill":"#9E3A3F"},"encoding":{"x":{"field":"y","type":"ordinal","scale":{"paddingInner":0.1,"paddingOuter":1},"axis":{"title":null}},"y":{"field":"v","type":"quantitative","scale":{"domain":[-111,927],"nice":false,"zero":false},"axis":{"values":[0,400,800],"title":null}}}},
   {"title":"ZHE JIANG","width":148,"height":69,"transform":[{"filter":"datum.p=='ZHE JIANG'"}],"mark":{"type":"bar","fill":"#9E3A3F"},"encoding":{"x":{"field":"y","type":"ordinal","scale":{"paddingInner":0.1,"paddingOuter":1},"axis":{"title":null}},"y":{"field":"v","type":"quantitative","scale":{"domain":[-111,927],"nice":false,"zero":false},"axis":{"values":[0,200,400,600,800],"title":null,"labels":false,"ticks":false,"domain":false}}}}
  ]}
 ]},
 {"spacing":19,"vconcat":[
  {"spacing":16,"hconcat":[
   {"title":"SHANG HAI","width":150,"height":69,"transform":[{"filter":"datum.p=='SHANG HAI'"}],"mark":{"type":"bar","fill":"#FF474C"},"encoding":{"x":{"field":"y","type":"ordinal","scale":{"paddingInner":0.1,"paddingOuter":1},"axis":null},"y":{"field":"v","type":"quantitative","scale":{"domain":[-42,347],"nice":false,"zero":false},"axis":{"values":[0,150,300],"title":null}}}},
   {"title":"BEI JING","width":150,"height":69,"transform":[{"filter":"datum.p=='BEI JING'"}],"mark":{"type":"bar","fill":"#FF474C"},"encoding":{"x":{"field":"y","type":"ordinal","scale":{"paddingInner":0.1,"paddingOuter":1},"axis":null},"y":{"field":"v","type":"quantitative","scale":{"domain":[-42,347],"nice":false,"zero":false},"axis":{"values":[0,100,200],"title":null,"labels":false,"ticks":false,"domain":false}}}}
  ]},
  {"spacing":16,"hconcat":[
   {"title":"SI CHUAN","width":150,"height":69,"transform":[{"filter":"datum.p=='SI CHUAN'"}],"mark":{"type":"bar","fill":"#FF474C"},"encoding":{"x":{"field":"y","type":"ordinal","scale":{"paddingInner":0.1,"paddingOuter":1},"axis":{"title":null}},"y":{"field":"v","type":"quantitative","scale":{"domain":[-33,273],"nice":false,"zero":false},"axis":{"values":[0,100,200],"title":null}}}},
   {"title":"FU JIAN","width":150,"height":69,"transform":[{"filter":"datum.p=='FU JIAN'"}],"mark":{"type":"bar","fill":"#FF474C"},"encoding":{"x":{"field":"y","type":"ordinal","scale":{"paddingInner":0.1,"paddingOuter":1},"axis":{"title":null}},"y":{"field":"v","type":"quantitative","scale":{"domain":[-33,273],"nice":false,"zero":false},"axis":{"values":[0,50,100,150],"title":null,"labels":false,"ticks":false,"domain":false}}}}
  ]}
 ]}
]},
{"spacing":30,"hconcat":[
 {"spacing":19,"vconcat":[
  {"spacing":16,"hconcat":[
   {"title":"AN HUI","width":147,"height":69,"transform":[{"filter":"datum.p=='AN HUI'"}],"mark":{"type":"bar","fill":"#4848FA"},"encoding":{"x":{"field":"y","type":"ordinal","scale":{"paddingInner":0.1,"paddingOuter":1},"axis":null},"y":{"field":"v","type":"quantitative","scale":{"domain":[-13,94],"nice":false,"zero":false},"axis":{"values":[0,40,80],"title":null}}}},
   {"title":"HE NAN","width":153,"height":69,"transform":[{"filter":"datum.p=='HE NAN'"}],"mark":{"type":"bar","fill":"#4848FA"},"encoding":{"x":{"field":"y","type":"ordinal","scale":{"paddingInner":0.1,"paddingOuter":1},"axis":null},"y":{"field":"v","type":"quantitative","scale":{"domain":[-13,94],"nice":false,"zero":false},"axis":{"values":[0,20,40,60,80],"title":null,"labels":false,"ticks":false,"domain":false}}}}
  ]},
  {"spacing":16,"hconcat":[
   {"title":"HU NAN","width":147,"height":69,"transform":[{"filter":"datum.p=='HU NAN'"}],"mark":{"type":"bar","fill":"#4848FA"},"encoding":{"x":{"field":"y","type":"ordinal","scale":{"paddingInner":0.1,"paddingOuter":1},"axis":{"title":null}},"y":{"field":"v","type":"quantitative","scale":{"domain":[-13,94],"nice":false,"zero":false},"axis":{"values":[0,40,80],"title":null}}}},
   {"title":"CHONG QING","width":153,"height":69,"transform":[{"filter":"datum.p=='CHONG QING'"}],"mark":{"type":"bar","fill":"#4848FA"},"encoding":{"x":{"field":"y","type":"ordinal","scale":{"paddingInner":0.1,"paddingOuter":1},"axis":{"title":null}},"y":{"field":"v","type":"quantitative","scale":{"domain":[-13,94],"nice":false,"zero":false},"axis":{"values":[0,20,40,60,80],"title":null,"labels":false,"ticks":false,"domain":false}}}}
  ]}
 ]},
 {"spacing":19,"vconcat":[
  {"spacing":16,"hconcat":[
   {"title":"TIAN JIN","width":153,"height":69,"transform":[{"filter":"datum.p=='TIAN JIN'"}],"mark":{"type":"bar","fill":"#4B6FA3"},"encoding":{"x":{"field":"y","type":"ordinal","scale":{"paddingInner":0.1,"paddingOuter":1},"axis":null},"y":{"field":"v","type":"quantitative","scale":{"domain":[-10,70.8],"nice":false,"zero":false},"axis":{"values":[0,30,60],"title":null}}}},
   {"title":"JIANG XI","width":153,"height":69,"transform":[{"filter":"datum.p=='JIANG XI'"}],"mark":{"type":"bar","fill":"#4B6FA3"},"encoding":{"x":{"field":"y","type":"ordinal","scale":{"paddingInner":0.1,"paddingOuter":1},"axis":null},"y":{"field":"v","type":"quantitative","scale":{"domain":[-10,70.8],"nice":false,"zero":false},"axis":{"values":[0,20,40,60],"title":null,"labels":false,"ticks":false,"domain":false}}}}
  ]},
  {"spacing":16,"hconcat":[
   {"title":"HU BEI","width":153,"height":69,"transform":[{"filter":"datum.p=='HU BEI'"}],"mark":{"type":"bar","fill":"#4B6FA3"},"encoding":{"x":{"field":"y","type":"ordinal","scale":{"paddingInner":0.1,"paddingOuter":1},"axis":{"title":null}},"y":{"field":"v","type":"quantitative","scale":{"domain":[-10,70.8],"nice":false,"zero":false},"axis":{"values":[0,30,60],"title":null}}}},
   {"title":"LIAO NING","width":153,"height":69,"transform":[{"filter":"datum.p=='LIAO NING'"}],"mark":{"type":"bar","fill":"#4B6FA3"},"encoding":{"x":{"field":"y","type":"ordinal","scale":{"paddingInner":0.1,"paddingOuter":1},"axis":{"title":null}},"y":{"field":"v","type":"quantitative","scale":{"domain":[-10,70.8],"nice":false,"zero":false},"axis":{"values":[0,20,40,60],"title":null,"labels":false,"ticks":false,"domain":false}}}}
  ]}
 ]},
 {"spacing":19,"vconcat":[
  {"spacing":16,"hconcat":[
   {"title":"YUN NAN","width":154,"height":69,"transform":[{"filter":"datum.p=='YUN NAN'"}],"mark":{"type":"bar","fill":"#4A8FE3"},"encoding":{"x":{"field":"y","type":"ordinal","scale":{"paddingInner":0.1,"paddingOuter":1},"axis":null},"y":{"field":"v","type":"quantitative","scale":{"domain":[-7.7,58.7],"nice":false,"zero":false},"axis":{"values":[0,25,50],"title":null}}}},
   {"title":"GUANG XI","width":153,"height":69,"transform":[{"filter":"datum.p=='GUANG XI'"}],"mark":{"type":"bar","fill":"#4A8FE3"},"encoding":{"x":{"field":"y","type":"ordinal","scale":{"paddingInner":0.1,"paddingOuter":1},"axis":null},"y":{"field":"v","type":"quantitative","scale":{"domain":[-7.7,58.7],"nice":false,"zero":false},"axis":{"values":[0,10,20,30,40,50],"title":null,"labels":false,"ticks":false,"domain":false}}}}
  ]},
  {"spacing":16,"hconcat":[
   {"title":"HE BEI","width":154,"height":69,"transform":[{"filter":"datum.p=='HE BEI'"}],"mark":{"type":"bar","fill":"#4A8FE3"},"encoding":{"x":{"field":"y","type":"ordinal","scale":{"paddingInner":0.1,"paddingOuter":1},"axis":{"title":null}},"y":{"field":"v","type":"quantitative","scale":{"domain":[-7.7,58.7],"nice":false,"zero":false},"axis":{"values":[0,25,50],"title":null}}}},
   {"title":"SHAN XI","width":153,"height":69,"transform":[{"filter":"datum.p=='SHAN XI'"}],"mark":{"type":"bar","fill":"#4A8FE3"},"encoding":{"x":{"field":"y","type":"ordinal","scale":{"paddingInner":0.1,"paddingOuter":1},"axis":{"title":null}},"y":{"field":"v","type":"quantitative","scale":{"domain":[-7.7,58.7],"nice":false,"zero":false},"axis":{"values":[0,10,20,30,40,50],"title":null,"labels":false,"ticks":false,"domain":false}}}}
  ]}
 ]}
]},
{"spacing":30,"hconcat":[
 {"spacing":19,"vconcat":[
  {"spacing":16,"hconcat":[
   {"title":"NEI MENG GU","width":147,"height":69,"transform":[{"filter":"datum.p=='NEI MENG GU'"}],"mark":{"type":"bar","fill":"#7047C2"},"encoding":{"x":{"field":"y","type":"ordinal","scale":{"paddingInner":0.1,"paddingOuter":1},"axis":null},"y":{"field":"v","type":"quantitative","scale":{"domain":[-3.3,24.2],"nice":false,"zero":false},"axis":{"values":[0,10,20],"title":null}}}},
   {"title":"SHAN XI","width":153,"height":69,"transform":[{"filter":"datum.p=='SHAAN XI'"}],"mark":{"type":"bar","fill":"#7047C2"},"encoding":{"x":{"field":"y","type":"ordinal","scale":{"paddingInner":0.1,"paddingOuter":1},"axis":null},"y":{"field":"v","type":"quantitative","scale":{"domain":[-3.3,24.2],"nice":false,"zero":false},"axis":{"values":[0,5,10,15,20],"title":null,"labels":false,"ticks":false,"domain":false}}}}
  ]},
  {"spacing":16,"hconcat":[
   {"title":"XIN JIANG","width":147,"height":69,"transform":[{"filter":"datum.p=='XIN JIANG'"}],"mark":{"type":"bar","fill":"#7047C2"},"encoding":{"x":{"field":"y","type":"ordinal","scale":{"paddingInner":0.1,"paddingOuter":1},"axis":{"title":null}},"y":{"field":"v","type":"quantitative","scale":{"domain":[-3.3,24.2],"nice":false,"zero":false},"axis":{"values":[0,10,20],"title":null}}}},
   {"title":"GUI ZHOU","width":153,"height":69,"transform":[{"filter":"datum.p=='GUI ZHOU'"}],"mark":{"type":"bar","fill":"#7047C2"},"encoding":{"x":{"field":"y","type":"ordinal","scale":{"paddingInner":0.1,"paddingOuter":1},"axis":{"title":null}},"y":{"field":"v","type":"quantitative","scale":{"domain":[-3.3,24.2],"nice":false,"zero":false},"axis":{"values":[0,5,10,15,20],"title":null,"labels":false,"ticks":false,"domain":false}}}}
  ]}
 ]},
 {"spacing":19,"vconcat":[
  {"spacing":16,"hconcat":[
   {"title":"JI LIN","width":153,"height":69,"transform":[{"filter":"datum.p=='JI LIN'"}],"mark":{"type":"bar","fill":"#3B3B3B"},"encoding":{"x":{"field":"y","type":"ordinal","scale":{"paddingInner":0.1,"paddingOuter":1},"axis":null},"y":{"field":"v","type":"quantitative","scale":{"domain":[-1.7,12.7],"nice":false,"zero":false},"axis":{"values":[0,5,10],"title":null}}}},
   {"title":"NING XIA","width":153,"height":69,"transform":[{"filter":"datum.p=='NING XIA'"}],"mark":{"type":"bar","fill":"#3B3B3B"},"encoding":{"x":{"field":"y","type":"ordinal","scale":{"paddingInner":0.1,"paddingOuter":1},"axis":null},"y":{"field":"v","type":"quantitative","scale":{"domain":[-1.7,12.7],"nice":false,"zero":false},"axis":{"values":[0,2,4,6,8,10],"title":null,"labels":false,"ticks":false,"domain":false}}}}
  ]},
  {"spacing":16,"hconcat":[
   {"title":"HAI NAN","width":153,"height":69,"transform":[{"filter":"datum.p=='HAI NAN'"}],"mark":{"type":"bar","fill":"#3B3B3B"},"encoding":{"x":{"field":"y","type":"ordinal","scale":{"paddingInner":0.1,"paddingOuter":1},"axis":{"title":null}},"y":{"field":"v","type":"quantitative","scale":{"domain":[-1.7,12.7],"nice":false,"zero":false},"axis":{"values":[0,5,10],"title":null}}}},
   {"title":"HEI LONG JIANG","width":153,"height":69,"transform":[{"filter":"datum.p=='HEI LONG JIANG'"}],"mark":{"type":"bar","fill":"#3B3B3B"},"encoding":{"x":{"field":"y","type":"ordinal","scale":{"paddingInner":0.1,"paddingOuter":1},"axis":{"title":null}},"y":{"field":"v","type":"quantitative","scale":{"domain":[-1.7,12.7],"nice":false,"zero":false},"axis":{"values":[0,2,4,6,8,10],"title":null,"labels":false,"ticks":false,"domain":false}}}}
  ]}
 ]},
 {"spacing":19,"vconcat":[
  {"spacing":17,"hconcat":[
   {"title":"GAN SU","width":157,"height":69,"transform":[{"filter":"datum.p=='GAN SU'"}],"mark":{"type":"bar","fill":"#7F7F7F"},"encoding":{"x":{"field":"y","type":"ordinal","scale":{"paddingInner":0.1,"paddingOuter":1},"axis":null},"y":{"field":"v","type":"quantitative","scale":{"domain":[-0.33,2.41],"nice":false,"zero":false},"axis":{"values":[0,1,2],"title":null}}}},
   {"title":"XI ZANG","width":158,"height":69,"transform":[{"filter":"datum.p=='XI ZANG'"}],"mark":{"type":"bar","fill":"#7F7F7F"},"encoding":{"x":{"field":"y","type":"ordinal","scale":{"paddingInner":0.1,"paddingOuter":1},"axis":null},"y":{"field":"v","type":"quantitative","scale":{"domain":[-0.33,2.41],"nice":false,"zero":false},"axis":{"values":[0,0.5,1,1.5,2],"title":null,"labels":false,"ticks":false,"domain":false}}}}
  ]},
  {"title":"QING HAI","width":157,"height":69,"transform":[{"filter":"datum.p=='QING HAI'"}],"mark":{"type":"bar","fill":"#7F7F7F"},"encoding":{"x":{"field":"y","type":"ordinal","scale":{"paddingInner":0.1,"paddingOuter":1},"axis":{"title":null}},"y":{"field":"v","type":"quantitative","scale":{"domain":[-0.33,2.41],"nice":false,"zero":false},"axis":{"values":[0,1,2],"title":null}}}}
 ]}
]}
],
"config":{
 "view":{"stroke":null},
 "font":"Liberation Serif, Times New Roman, DejaVu Serif, serif",
 "title":{"font":"Liberation Serif, Times New Roman, DejaVu Serif, serif","fontSize":21,"fontWeight":"normal","color":"#000000","offset":2,"frame":"group","anchor":"middle"},
 "axis":{"labelFont":"Liberation Serif, Times New Roman, DejaVu Serif, serif","labelFontSize":18.5,"labelColor":"#000000","domainColor":"#000000","tickColor":"#000000","gridColor":"#E4E4E4","gridWidth":1,"tickSize":4,"labelPadding":3,"domainWidth":1.2,"tickWidth":1.2},
 "axisX":{"labels":false,"ticks":false,"grid":false},
 "axisY":{"grid":true},
 "bar":{"stroke":"#FFFFFF","strokeWidth":0.8,"strokeOpacity":0.55}
}
}
